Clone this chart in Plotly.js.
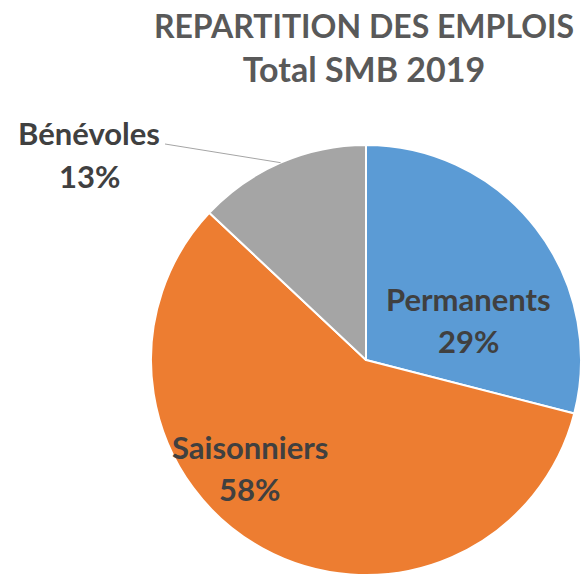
<!DOCTYPE html>
<html>
<head>
<meta charset="utf-8">
<script src="https://cdn.plot.ly/plotly-3.0.1.min.js"></script>
<style>
html,body{margin:0;padding:0;overflow:hidden;background:#fff;}
#chart{width:582px;height:600px;}
</style>
</head>
<body>
<div id="chart"></div>
<script>
const categories = ['Permanents', 'Saisonniers', 'Bénévoles'];
const shares = [29, 58, 13];
const colors = ['#5B9BD5', '#ED7D31', '#A5A5A5'];
const titleLines = ['REPARTITION DES EMPLOIS', 'Total SMB 2019'];

const W = 582, H = 600;
const cx = 366, cy = 360, R = 215;
const px = x => x / W;
const py = y => 1 - y / H;

const FONT = 'Lato, "Open Sans", sans-serif';
const labelColor = '#404040';

// label centre positions (pixels) for name / percent lines
const labelPos = [
  {x: 468, y1: 299, y2: 341},
  {x: 250, y1: 447, y2: 489},
  {x: 89,  y1: 133, y2: 176}
];

const total = shares.reduce((a, b) => a + b, 0);
const annotations = [];
categories.forEach((c, i) => {
  const p = labelPos[i];
  annotations.push({xref: 'paper', yref: 'paper', x: px(p.x), y: py(p.y1), text: '<b>' + c + '</b>',
    showarrow: false, xanchor: 'center', yanchor: 'middle', font: {family: FONT, size: 31, color: labelColor}});
  annotations.push({xref: 'paper', yref: 'paper', x: px(p.x), y: py(p.y2), text: '<b>' + Math.round(shares[i] / total * 100) + '%</b>',
    showarrow: false, xanchor: 'center', yanchor: 'middle', font: {family: FONT, size: 31, color: labelColor}});
});

// leader line for the last (outside-labelled) slice, ending at its mid-angle on the rim
let cum = 0;
for (let i = 0; i < shares.length - 1; i++) cum += shares[i];
const midFrac = (cum + shares[shares.length - 1] / 2) / total;
const ang = midFrac * 2 * Math.PI;
const ex = cx + R * Math.sin(ang), ey = cy - R * Math.cos(ang);

const data = [{
  type: 'pie',
  labels: categories,
  values: shares,
  sort: false,
  direction: 'clockwise',
  rotation: 0,
  textinfo: 'none',
  hoverinfo: 'skip',
  marker: {colors: colors, line: {color: '#ffffff', width: 2}},
  domain: {x: [px(cx - R), px(cx + R)], y: [py(cy + R), py(cy - R)]},
  showlegend: false
}];

const layout = {
  width: W, height: H,
  margin: {l: 0, r: 0, t: 0, b: 0},
  paper_bgcolor: '#ffffff',
  title: {
    text: '<b><span style="font-size:32px">' + titleLines[0] + '</span><br>' + titleLines[1] + '</b>',
    x: px(364), xanchor: 'center', xref: 'paper',
    y: 1 - 38 / H, yanchor: 'top', yref: 'container',
    font: {family: FONT, size: 34, color: '#595959'}
  },
  annotations: annotations,
  shapes: [{type: 'line', xref: 'paper', yref: 'paper', x0: px(165), y0: py(144), x1: px(ex), y1: py(ey),
    line: {color: '#A5A5A5', width: 1}}]
};

Plotly.newPlot('chart', data, layout, {displayModeBar: false, staticPlot: true});
</script>
</body>
</html>
